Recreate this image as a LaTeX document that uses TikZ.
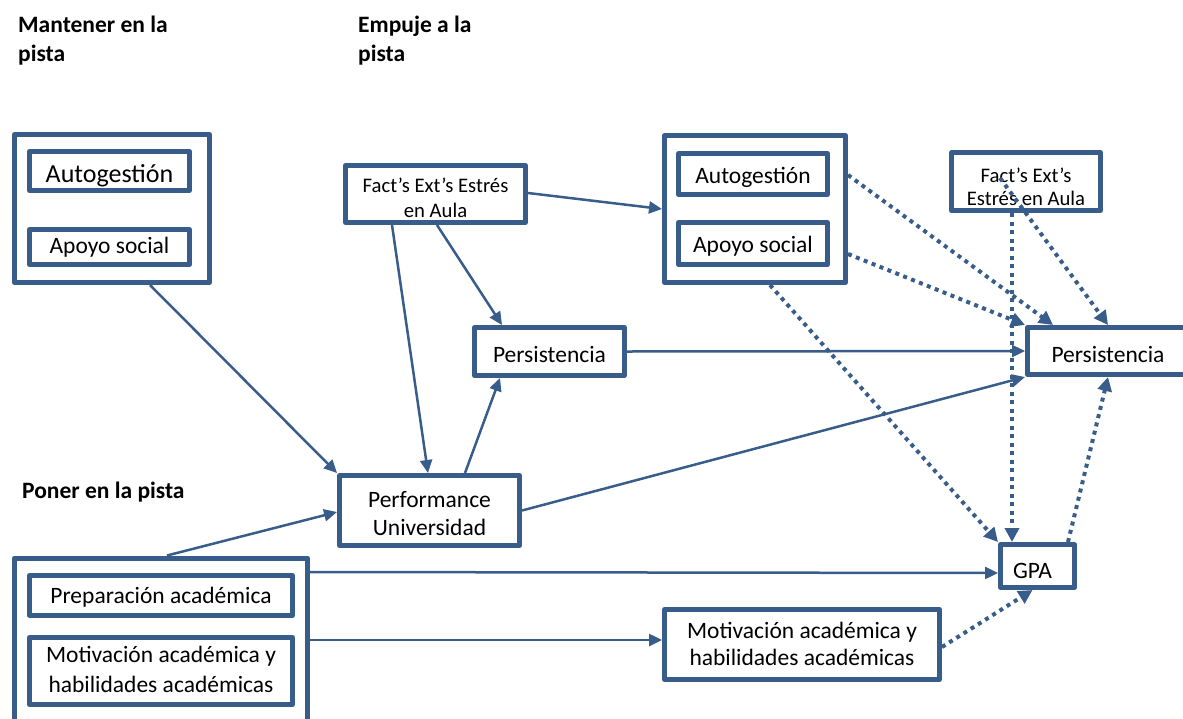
\documentclass[tikz,border=0pt]{standalone}
\usepackage{fontspec}
\setmainfont{Carlito}
\usetikzlibrary{arrows.meta,calc}
\definecolor{bc}{RGB}{56,93,138}
% vertical placement helpers: \tl{h}{d} strut from -d to h
\newcommand\tl[2]{\rule[-#2pt]{0pt}{\dimexpr #1pt + #2pt\relax}}
\begin{document}
\begin{tikzpicture}[x=1pt,y=-1pt,
 box/.style={draw=bc, line width=5pt, line join=round, inner sep=0pt, align=center, font=\fontsize{23.5}{28.7}\selectfont},
 small/.style={font=\fontsize{20.7}{25.2}\selectfont},
 con/.style={draw=bc, line width=2.5pt, -{Triangle[length=13pt,width=12pt]}},
 dotcon/.style={draw=bc, line width=4pt, dash pattern=on 4pt off 4.5pt, -{Triangle[length=14pt,width=14pt]}},
 head/.style={font=\bfseries\fontsize{23.5}{28.7}\selectfont, inner sep=0pt, align=left}]
\useasboundingbox (0,0) rectangle (1183,718);
\clip (0,0) rectangle (1183,718);

\node[head, anchor=north west] (h1) at (18,16) {Mantener en la\\pista};
\node[head, anchor=north west] (h2) at (358,16) {Empuje a la\\pista};
\node[head, anchor=base west] (h3) at (22,498) {Poner en la pista};

\node[box, minimum width=195pt, minimum height=148pt] (ltOuter) at (112,208.5) {};
\node[box, minimum width=160pt, minimum height=39pt, font=\fontsize{26}{30}\selectfont] (ltAuto) at (109.5,171) {\tl{28}{6}Autogestión};
\node[box, minimum width=160pt, minimum height=35pt] (ltApoyo) at (109.5,247) {\tl{20}{8}Apoyo social};
\node[box, small, minimum width=180pt, minimum height=57pt] (factM) at (435.5,194) {\tl{26.2}{0}Fact’s Ext’s Estrés\\\tl{0}{5}en Aula};
\node[box, minimum width=150pt, minimum height=48pt] (persM) at (549.5,351.5) {\tl{24.5}{3.5}Persistencia};
\node[box, minimum width=180pt, minimum height=70pt, font=\fontsize{23.5}{28}\selectfont] (perf) at (429.5,510.5) {\tl{26}{0}Performance\\\tl{0}{5}Universidad};
\node[box, minimum width=181pt, minimum height=147pt] (mrOuter) at (755,209) {};
\node[box, minimum width=149pt, minimum height=41pt] (mrAuto) at (753,174) {\tl{23.5}{5.5}Autogestión};
\node[box, minimum width=149pt, minimum height=42pt] (mrApoyo) at (753,243.5) {\tl{22.5}{5.5}Apoyo social};
\node[box, minimum width=149pt, minimum height=58pt, font=\fontsize{20.7}{23}\selectfont] (factR) at (1026,181.5) {\tl{27}{0}Fact’s Ext’s\\\tl{0}{3}Estrés en Aula};
\node[box, minimum width=161pt, minimum height=47pt] (persR) at (1108,351) {\tl{25}{3}Persistencia};
\node[box, minimum width=74pt, minimum height=43pt] (gpa) at (1037.5,566) {\hspace*{-10pt}\tl{26}{2}GPA};
\node[box, minimum width=293pt, minimum height=170pt] (lbOuter) at (161,643) {};
\node[box, minimum width=263pt, minimum height=40pt] (lbPrep) at (161,595.5) {\tl{21.5}{6.5}Preparación académica};
\node[box, minimum width=263pt, minimum height=67pt, font=\fontsize{23.5}{30}\selectfont] (lbMot) at (161,671) {\tl{20}{0}Motivación académica y\\\tl{0}{8}habilidades académicas};
\node[box, minimum width=275pt, minimum height=70pt, font=\fontsize{23.5}{27}\selectfont] (motR) at (802,644.5) {\tl{20}{0}Motivación académica y\\\tl{0}{6}habilidades académicas};

% solid connectors
\draw[con] ([xshift=138pt]ltOuter.south west) -- (perf.north west);
\draw[con] ([xshift=-43.5pt]factM.south) -- ([xshift=-1.5pt]perf.north);
\draw[con] ([xshift=1.5pt]factM.south) -- ([xshift=-47.5pt]persM.north);
\draw[con] ([xshift=35.5pt]perf.north) -- ([xshift=-49.5pt]persM.south);
\draw[con] ([yshift=1pt]factM.east) -- (mrOuter.west);
\draw[con] (persM.east) -- (persR.west);
\draw[con] (perf.east) -- (persR.south west);
\draw[con] ([xshift=155pt]lbOuter.north west) -- ([yshift=-1.5pt]perf.west);
\draw[con] ([yshift=71pt]lbOuter.east) -- ([yshift=-7pt]gpa.west);
\draw[con] ([yshift=3pt]lbOuter.east) -- ([yshift=4.5pt]motR.west);

% dotted connectors
\coordinate (fRin) at ([xshift=-26pt,yshift=3.5pt]factR.center);
\draw[dotcon] ([yshift=34pt]mrOuter.east) -- ([xshift=-55pt]persR.north);
\draw[dotcon] ([yshift=-45pt]mrOuter.east) -- (persR.north west);
\draw[dotcon] (fRin) -- (persR.north);
\draw[dotcon] ([xshift=-14pt]factR.south) -- ([xshift=-25.5pt]gpa.north);
\draw[dotcon] ([xshift=15pt]mrOuter.south) -- (gpa.north west);
\draw[dotcon] ([xshift=30.5pt]gpa.north) -- (persR.south);
\draw[dotcon] ([yshift=-2.5pt]motR.east) -- ([xshift=-5pt]gpa.south);
\end{tikzpicture}
\end{document}
